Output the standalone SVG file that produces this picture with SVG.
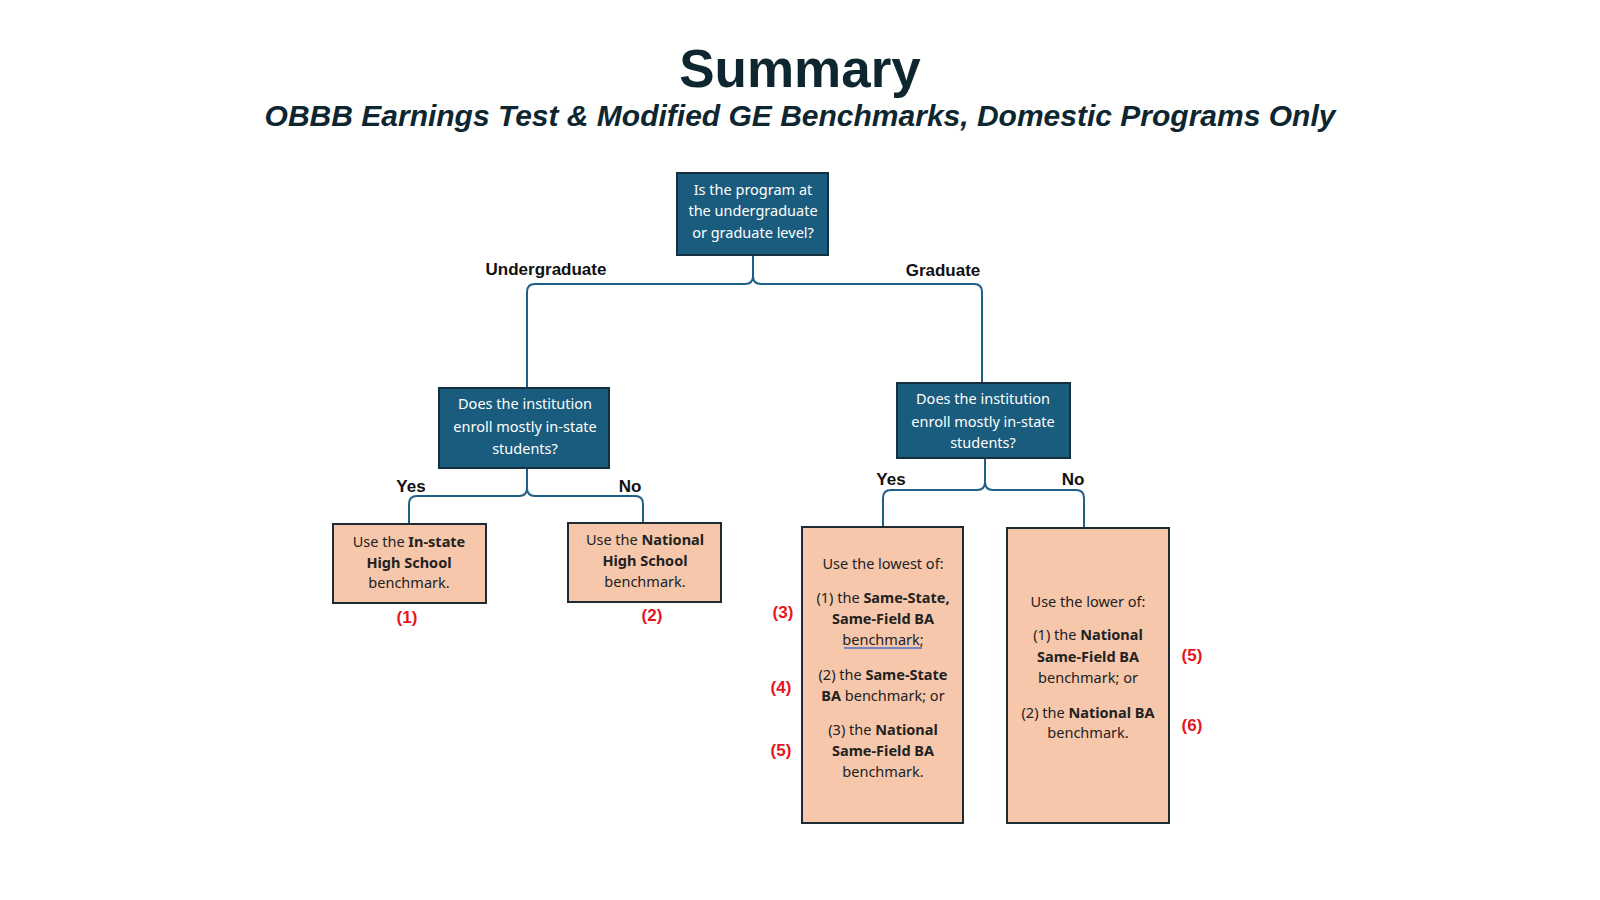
<svg xmlns="http://www.w3.org/2000/svg" width="1600" height="900" viewBox="0 0 1600 900">
<style>
.q{fill:#1a5c7e;stroke:#14303e;stroke-width:2}
.leaf{fill:#f6c7ab;stroke:#1e2b33;stroke-width:2}
.qt{font-family:"Noto Sans","Liberation Sans",sans-serif;font-size:14.5px;fill:#ffffff;text-anchor:middle}
.lt{font-family:"Noto Sans","Liberation Sans",sans-serif;font-size:14.5px;fill:#222222;text-anchor:middle}
.b{font-weight:bold}
.lbl{font-family:"Liberation Sans",Arial,sans-serif;font-size:17px;font-weight:bold;fill:#111111;text-anchor:middle}
.num{font-family:"Liberation Sans",Arial,sans-serif;font-size:17px;font-weight:bold;fill:#e8141c;text-anchor:middle}
.c{fill:none;stroke:#1f6087;stroke-width:2}
</style>
<rect width="1600" height="900" fill="#ffffff"/>
<text x="800" y="87" font-family="Liberation Sans,Arial,sans-serif" font-size="53" font-weight="bold" fill="#0d2630" text-anchor="middle">Summary</text>
<text x="800" y="126" font-family="Liberation Sans,Arial,sans-serif" font-size="30" font-weight="bold" font-style="italic" fill="#0d2630" text-anchor="middle">OBBB Earnings Test &amp; Modified GE Benchmarks, Domestic Programs Only</text>

<g id="connectors">
<path class="c" d="M753,255 V276 Q753,284 745,284 H535 Q527,284 527,292 V388"/>
<path class="c" d="M753,276 Q753,284 761,284 H974 Q982,284 982,292 V383"/>
<path class="c" d="M527,468 V488 Q527,496 519,496 H417 Q409,496 409,504 V524"/>
<path class="c" d="M527,488 Q527,496 535,496 H635 Q643,496 643,504 V523"/>
<path class="c" d="M985,458 V482 Q985,490 977,490 H891 Q883,490 883,498 V527"/>
<path class="c" d="M985,482 Q985,490 993,490 H1076 Q1084,490 1084,498 V528"/>
<text class="lbl" x="546" y="275">Undergraduate</text>
<text class="lbl" x="943" y="276">Graduate</text>
<text class="lbl" x="411" y="492">Yes</text>
<text class="lbl" x="630" y="492">No</text>
<text class="lbl" x="891" y="485">Yes</text>
<text class="lbl" x="1073" y="485">No</text>
</g>

<g id="q-level">
<rect class="q" x="677" y="173" width="151" height="82"/>
<text class="qt" x="753" y="195">Is the program at</text>
<text class="qt" x="753" y="216">the undergraduate</text>
<text class="qt" x="753" y="238">or graduate level?</text>
</g>

<g id="q-instate-ug">
<rect class="q" x="439" y="388" width="170" height="80"/>
<text class="qt" x="525" y="409">Does the institution</text>
<text class="qt" x="525" y="432">enroll mostly in-state</text>
<text class="qt" x="525" y="454">students?</text>
</g>

<g id="q-instate-grad">
<rect class="q" x="897" y="383" width="173" height="75"/>
<text class="qt" x="983" y="404">Does the institution</text>
<text class="qt" x="983" y="427">enroll mostly in-state</text>
<text class="qt" x="983" y="448">students?</text>
</g>

<g id="leaf-1">
<rect class="leaf" x="333" y="524" width="153" height="79"/>
<text class="lt" x="409" y="547">Use the <tspan class="b">In-state</tspan></text>
<text class="lt b" x="409" y="568">High School</text>
<text class="lt" x="409" y="588">benchmark.</text>
<text class="num" x="407" y="623">(1)</text>
</g>

<g id="leaf-2">
<rect class="leaf" x="568" y="523" width="153" height="79"/>
<text class="lt" x="645" y="545">Use the <tspan class="b">National</tspan></text>
<text class="lt b" x="645" y="566">High School</text>
<text class="lt" x="645" y="587">benchmark.</text>
<text class="num" x="652" y="621">(2)</text>
</g>

<g id="leaf-3">
<rect class="leaf" x="802" y="527" width="161" height="296"/>
<text class="lt" x="883" y="569">Use the lowest of:</text>
<text class="lt" x="883" y="603">(1) the <tspan class="b">Same-State,</tspan></text>
<text class="lt b" x="883" y="624">Same-Field BA</text>
<text class="lt" x="883" y="645">benchmark;</text>
<line x1="844" y1="648" x2="922" y2="648" stroke="#4a6fd0" stroke-width="1.5"/>
<text class="lt" x="883" y="680">(2) the <tspan class="b">Same-State</tspan></text>
<text class="lt" x="883" y="701"><tspan class="b">BA</tspan> benchmark; or</text>
<text class="lt" x="883" y="735">(3) the <tspan class="b">National</tspan></text>
<text class="lt b" x="883" y="756">Same-Field BA</text>
<text class="lt" x="883" y="777">benchmark.</text>
<text class="num" x="783" y="618">(3)</text>
<text class="num" x="781" y="693">(4)</text>
<text class="num" x="781" y="756">(5)</text>
</g>

<g id="leaf-4">
<rect class="leaf" x="1007" y="528" width="162" height="295"/>
<text class="lt" x="1088" y="607">Use the lower of:</text>
<text class="lt" x="1088" y="640">(1) the <tspan class="b">National</tspan></text>
<text class="lt b" x="1088" y="662">Same-Field BA</text>
<text class="lt" x="1088" y="683">benchmark; or</text>
<text class="lt" x="1088" y="718">(2) the <tspan class="b">National BA</tspan></text>
<text class="lt" x="1088" y="738">benchmark.</text>
<text class="num" x="1192" y="661">(5)</text>
<text class="num" x="1192" y="731">(6)</text>
</g>
</svg>
